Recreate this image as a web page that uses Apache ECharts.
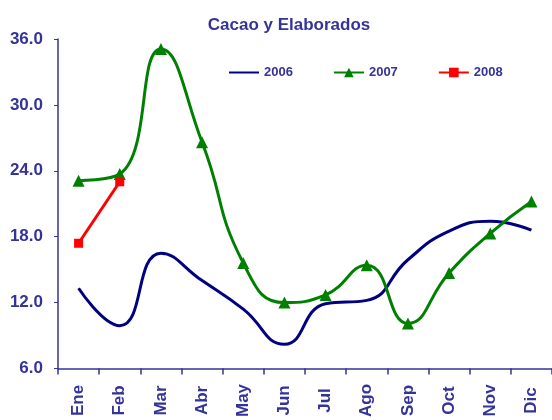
<!DOCTYPE html>
<html>
<head>
    <meta charset="utf-8">
    <title>Cacao y Elaborados</title>
    <script src="https://cdn.jsdelivr.net/npm/echarts@6/dist/echarts.min.js"></script>
    <style type="text/css">
        html,body{margin:0;padding:0;background:#fff;}
        #main{width:552px;height:420px;}
    </style>
</head>
<body>
    <div id="main"></div>
    <script type="text/javascript">
        // datos
        var meses = ['Ene','Feb','Mar','Abr','May','Jun','Jul','Ago','Sep','Oct','Nov','Dic'];
        var datos2006 = [13.3, 9.9, 16.5, 14.0, 11.4, 8.2, 11.9, 12.2, 15.9, 18.5, 19.4, 18.6];
        var datos2007 = [23.1, 23.7, 35.1, 26.6, 15.6, 12.0, 12.7, 15.4, 10.1, 14.7, 18.3, 21.2];
        var datos2008 = [17.4, 23.0];
        var ejeY = {min: 6, max: 36, step: 6};

        var azul = '#333399';
        var fuente = 'Liberation Sans, Arial, sans-serif';

        var myChart = echarts.init(document.getElementById('main'));
        var option = {
            animation: false,
            title: {
                text: 'Cacao y Elaborados',
                left: 284,
                textAlign: 'center',
                top: 12,
                textStyle: {
                    color: azul,
                    fontSize: 17,
                    fontWeight: 'bold',
                    fontFamily: fuente
                }
            },
            legend: {
                left: 223,
                top: 61,
                itemWidth: 30,
                itemHeight: 12,
                itemGap: 40,
                textStyle: {
                    color: azul,
                    fontSize: 13,
                    fontWeight: 'bold',
                    fontFamily: fuente
                },
                data: [
                    {name: '2006', itemStyle: {opacity: 0}},
                    '2007',
                    '2008'
                ]
            },
            grid: {
                left: 58,
                top: 39,
                right: 0,
                bottom: 49
            },
            xAxis: {
                type: 'category',
                data: meses,
                boundaryGap: true,
                axisLine: {lineStyle: {color: azul, width: 1.5}},
                axisTick: {show: true, length: 6, lineStyle: {color: azul, width: 1.5}},
                axisLabel: {
                    rotate: 90,
                    align: 'center',
                    margin: 32,
                    color: azul,
                    fontSize: 17,
                    fontWeight: 'bold',
                    fontFamily: fuente
                },
                splitLine: {show: false}
            },
            yAxis: {
                type: 'value',
                min: ejeY.min,
                max: ejeY.max,
                interval: ejeY.step,
                axisLine: {show: true, lineStyle: {color: azul, width: 1.5}},
                axisTick: {show: true, length: 4, lineStyle: {color: azul}},
                axisLabel: {
                    margin: 15,
                    color: azul,
                    fontSize: 17,
                    fontWeight: 'bold',
                    fontFamily: fuente,
                    formatter: function (v) { return v.toFixed(1); }
                },
                splitLine: {show: false}
            },
            series: [
                {
                    name: '2006',
                    type: 'line',
                    data: datos2006,
                    smooth: 0.5,
                    symbol: 'none',
                    color: '#000080',
                    lineStyle: {width: 3, color: '#000080'}
                },
                {
                    name: '2007',
                    type: 'line',
                    data: datos2007,
                    smooth: 0.5,
                    symbol: 'triangle',
                    symbolSize: 12,
                    color: '#008000',
                    itemStyle: {color: '#008000'},
                    lineStyle: {width: 3, color: '#008000'}
                },
                {
                    name: '2008',
                    type: 'line',
                    data: datos2008,
                    symbol: 'rect',
                    symbolSize: 9,
                    color: '#ff0000',
                    itemStyle: {color: '#ff0000'},
                    lineStyle: {width: 3, color: '#ff0000'}
                }
            ]
        };
        myChart.setOption(option);
    </script>
</body>
</html>
